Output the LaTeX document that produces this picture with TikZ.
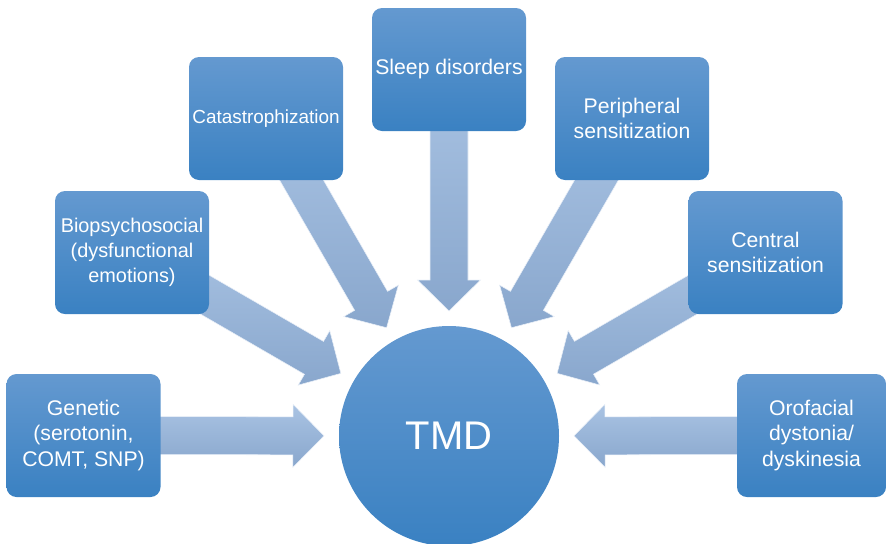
\documentclass[tikz,border=0pt]{standalone}
\usepackage{fontspec}
\setmainfont{Liberation Sans}
\usetikzlibrary{calc,backgrounds}

\definecolor{boxtop}{HTML}{6499D0}
\definecolor{boxbot}{HTML}{3A81C2}
\definecolor{arrtop}{HTML}{A9C3E3}
\definecolor{arrbot}{HTML}{89A7CD}

\tikzset{
  factor/.style={rounded corners=7.5pt, top color=boxtop, bottom color=boxbot,
    minimum width=115.5pt, minimum height=92.25pt, inner sep=1pt,
    text=white, align=center, font=\fontsize{15.9}{19.3}\selectfont},
  core/.style={circle, top color=boxtop, bottom color=boxbot,
    minimum size=165pt, inner sep=0pt, text=white, font=\fontsize{30}{36}\selectfont},
  fatarrow/.style={top color=arrtop, bottom color=arrbot, draw=white!75!arrtop, line width=0.4pt}
}

\begin{document}
\begin{tikzpicture}[x=0.75pt,y=-0.75pt]

\useasboundingbox (0,0) rectangle (887,543);

\node[core] (tmd) at (449,436) {TMD};

\node[factor] (gen) at (83.5,435.5) {Genetic\\(serotonin,\\COMT, SNP)};
\node[factor,font=\fontsize{14.9}{19}\selectfont] (bio) at (132,252.5) {Biopsychosocial\\(dysfunctional\\emotions)};
\node[factor,font=\fontsize{14.2}{18}\selectfont] (cat) at (266,118.5) {Catastrophization};
\node[factor] (sleep) at (449,69.5) {Sleep disorders};
\node[factor] (peri) at (632,118.5) {Peripheral\\sensitization};
\node[factor] (cent) at (765.5,252.5) {Central\\sensitization};
\node[factor,minimum width=111.75pt] (oro) at (811.5,435.5) {Orofacial\\dystonia/\\dyskinesia};

\begin{scope}[on background layer]
\foreach \b in {gen,bio,cat,sleep,peri,cent,oro}{
	\coordinate (\b-tip) at ($(tmd)!93.75pt!(\b)$);
	\coordinate (\b-base) at ($(\b-tip)!23.25pt!(\b)$);
	\shade[fatarrow] ($(\b)!14.25pt!90:(\b-tip)$) -- ($(\b-base)!14.25pt!-90:(\b)$)
		-- ($(\b-base)!23.6pt!-90:(\b)$) -- (\b-tip) -- ($(\b-base)!23.6pt!90:(\b)$)
		-- ($(\b-base)!14.25pt!90:(\b)$) -- ($(\b)!14.25pt!-90:(\b-tip)$) -- cycle;
}
\end{scope}

\end{tikzpicture}
\end{document}
